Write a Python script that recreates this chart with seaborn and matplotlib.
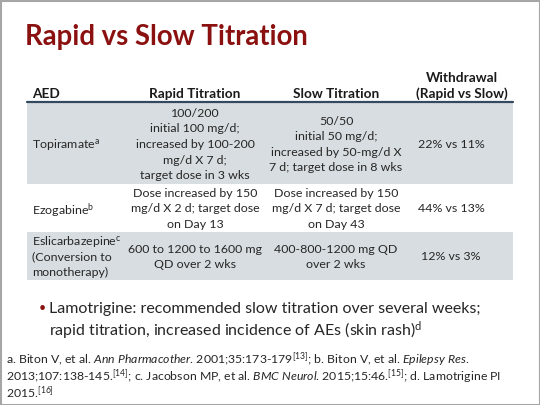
import matplotlib
matplotlib.use("Agg")
import matplotlib.pyplot as plt
import seaborn as sns

# slide content
title = "Rapid vs Slow Titration"
col_headers = ["AED", "Rapid Titration", "Slow Titration", ["Withdrawal", "(Rapid vs Slow)"]]
aed = [["Topiramate$^{\\mathrm{a}}$"],
       ["Ezogabine$^{\\mathrm{b}}$"],
       ["Eslicarbazepine$^{\\mathrm{c}}$", "(Conversion to", "monotherapy)"]]
rapid = [["100/200", "initial 100 mg/d;", "increased by 100-200", "mg/d X 7 d;", "target dose in 3 wks"],
         ["Dose increased by 150", "mg/d X 2 d; target dose", "on Day 13"],
         ["600 to 1200 to 1600 mg", "QD over 2 wks"]]
slow = [["50/50", "initial 50 mg/d;", "increased by 50-mg/d X", "7 d; target dose in 8 wks"],
        ["Dose increased by 150", "mg/d X 7 d; target dose", "on Day 43"],
        ["400-800-1200 mg QD", "over 2 wks"]]
withdrawal = ["22% vs 11%", "44% vs 13%", "12% vs 3%"]
bullet = ["Lamotrigine: recommended slow titration over several weeks;",
          "rapid titration, increased incidence of AEs (skin rash)$^{\\mathrm{d}}$"]
refs = ["a. Biton V, et al. $\\mathit{Ann\\ Pharmacother}$. 2001;35:173-179$^{[13]}$; b. Biton V, et al. $\\mathit{Epilepsy\\ Res}$.",
        "2013;107:138-145.$^{[14]}$; c. Jacobson MP, et al. $\\mathit{BMC\\ Neurol}$. 2015;15:46.$^{[15]}$; d. Lamotrigine PI",
        "2015.$^{[16]}$"]

sns.set_theme(style="white")
plt.rcParams['font.family'] = ['Lato', 'DejaVu Sans']
plt.rcParams['mathtext.fontset'] = 'custom'
plt.rcParams['mathtext.rm'] = 'Lato'
plt.rcParams['mathtext.it'] = 'Lato:italic'
plt.rcParams['mathtext.bf'] = 'Lato:bold'

title_col = '#8b1111'
text_col = '#262626'
shade = '#d7dde1'
rule_col = '#34495e'

fig = plt.figure(figsize=(5.4, 4.05), dpi=100)
ax = fig.add_axes([0, 0, 1, 1])
ax.set_xlim(0, 540)
ax.set_ylim(405, 0)
ax.axis('off')

# frame
ax.add_patch(plt.Rectangle((0.5, 0.5), 539, 404, fill=False, ec='#a6a6a6', lw=1.5))

ax.text(25, 34, title, fontsize=19.8, fontweight='bold', color=title_col, va='center_baseline')

# table geometry
tx0, tx1 = 27, 513
row_top = [103, 184, 232]
row_bot = [184, 232, 280]
x_aed, x_rapid, x_slow, x_wd = 32, 195, 336, 451
line_h = 15.5
fs = 8.9


def cell(x, yc, lines, ha='center', **kw):
    n = len(lines)
    for i, s in enumerate(lines):
        ax.text(x, yc + (i - (n - 1) / 2) * line_h, s, ha=ha, va='center_baseline',
                fontsize=fs, color=text_col, **kw)


for i in range(3):
    if i != 1:
        ax.fill_between([tx0, tx1], row_top[i], row_bot[i], color=shade, lw=0)
    yc = (row_top[i] + row_bot[i]) / 2
    cell(x_aed, yc, aed[i], ha='left')
    cell(x_rapid, yc, rapid[i])
    cell(x_slow, yc, slow[i])
    cell(x_wd, yc, [withdrawal[i]])

ax.plot([tx0, tx1], [102, 102], color=rule_col, lw=1.6)

hdr = dict(fontsize=9.8, fontweight='bold', color='#1a1a1a', va='center_baseline')
ax.text(x_aed, 93, col_headers[0], ha='left', **hdr)
ax.text(x_rapid, 93, col_headers[1], ha='center', **hdr)
ax.text(x_slow, 93, col_headers[2], ha='center', **hdr)
ax.text(462, 77, col_headers[3][0], ha='center', **hdr)
ax.text(462, 93, col_headers[3][1], ha='center', **hdr)

# bullet
ax.text(42, 307, u'\u2022', fontsize=9, color=title_col, ha='center', va='center_baseline')
for i, s in enumerate(bullet):
    ax.text(49, 307 + i * 20, s, fontsize=11.5, color=text_col, va='center_baseline')

# references
for i, s in enumerate(refs):
    ax.text(6, 357 + i * 16.8, s, fontsize=8.8, color=text_col, va='center_baseline')

fig.savefig('out.png', dpi=100)
